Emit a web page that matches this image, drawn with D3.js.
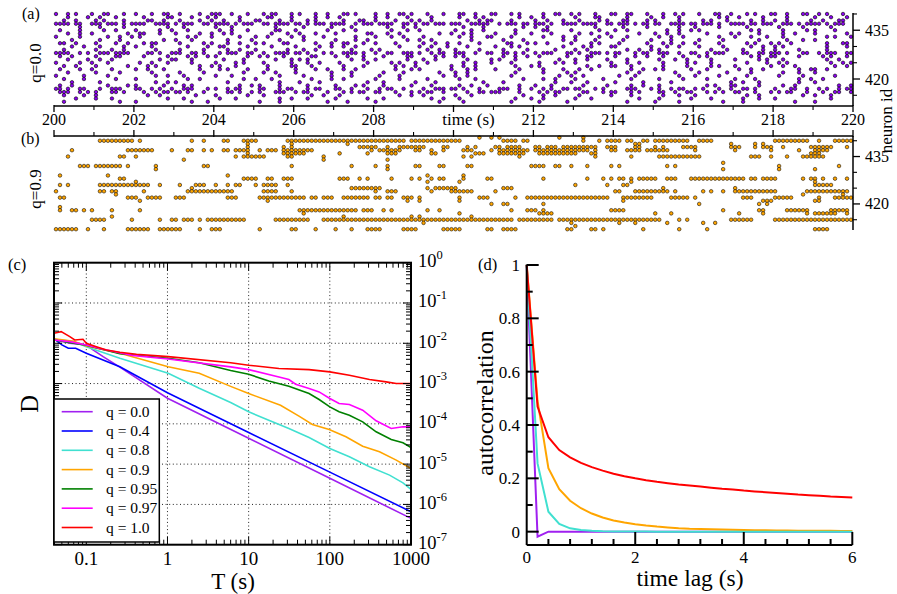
<!DOCTYPE html>
<html><head><meta charset="utf-8">
<script src="https://cdn.jsdelivr.net/npm/d3@7"></script>
<style>
body{margin:0;background:#fff}
text{font-family:"Liberation Serif","Times New Roman",serif;fill:#000}
</style>
</head><body>
<svg id="c" width="897" height="594" font-family="Liberation Serif, Times New Roman, serif"></svg>
<script>
// ---------------- DATA ----------------
const rasterStart = 200, rasterBin = 0.1;
const timeMajorTicks = [200,202,204,206,208,210,212,214,216,218,220];
const timeMinorTicks = [201,203,205,207,209,211,213,215,217,219];
const timeTickLabels = ["200","202","204","206","208","","212","214","216","218","220"];
const timeAxisLabel = "time (s)";
const neuronMajorTicks = [420,435];
const neuronMinorTicks = [415,425,430,440];

// panel (a) q=0.0 : one string per neuron, 0.1 s bins from 200 s ('o' = spike)
const rasterA_ids = [440,439,438,437,436,435,434,433,432,431,430,429,428,427,426,425,424,423,422,421,420,419,418,417,416,415,414,413];
const rasterA_rows = [
"o..o.o...o ..oo...o.. o...o..oo. .o....o..o oo..o...o. ..o.oo...o .o...o..o. ..oo.o.... o..o..oo.o ...o...o.. .oo..o...o o...o.o... ..o..oo..o .o...o...o o..oo...o. ..o..o.o.. .o...oo..o ...o.o...o o..o...oo. .o.o...o..",
"...o....o. .o...o.... ..o.....oo ....o...o. o.....o... ...oo....o .....o..o. .o........ o..o....o. ....o..... .o...o.o.. ......o..o ..o....... o....oo... ...o.....o ..o...o... ......o.o. .o.....o.. ...o...... o...o...o.",
"..o..o.... o.o....o.. ...oo..o.. .o....o..o ..o...o... oo....o..o ...o.o.... ..o...oo.. o....o...o .o..o..... ...o..o.oo ....o..... o..o...o.. .o....o.o. ..oo....o. o.....o... ..o.o...o. ....o..o.. o..o.....o ..o...oo..",
"oooo.oo..o oo.ooo.o.o ooo..oooo. o.ooo..oo. oooo.o.ooo ..oo.oooo. oo.o.ooo.o ooo..o.ooo .oooo..oo. o.oo.ooo.o oo..ooooo. .o.ooo.oo. ooo.o..ooo o.oooo..oo .ooo.o.oo. oo..oooo.o o.ooo.o..o ooo.oo.ooo ..ooo.o.oo oo.o.ooo..",
"......o... .o.....o.. ........o. ..o....... o...o..... .....o.... ..o......o ....o..... ...o...o.. o......... ..o....o.. .......o.. o..o...... .....o.... ..o.....o. ......o... o.....o... ...o...... .o.....o.. ....o.....",
".o....o... ..o..o.... o.....o..o ...o...... .o..o...o. .....oo... o.......o. ..o..o.... ....o...o. .o........ o...o..o.. .....o.... ..oo.....o ......o... o..o...... ...o..o..o .o........ ....o.o... ..o.....o. o....o....",
"...o..o..o ........o. .oo...o... o.....o..o ..o.o..... ....o...o. .o...o.... o.......oo ...o..o... ......o..o ..o.o..... o....o...o ....o..... .o..o...o. ......o... o..o..o... ...o.....o .o....o... ..o..o.... o.......o.",
"o.....o... ...o..o..o .o........ ...o.o...o ......o... o..o.....o ..o....o.. .....o.... o...o..o.. ..o....... .o..o...oo ....o..... ..o....o.. o.....o..o ...o...... .o..o..o.. ......o... o...o...o. ..o....... ...o.o...o",
"....o..... .o....o... .......o.. o...o..... ...o.....o ......o... ..o....... o....o..o. ........o. .o..o..... ....o..... ..o....o.. .......o.. o....o.... ..o......o ....o..... .o.....o.. ......o... ...o...o.. o.........",
".oo..o.... o....o..o. ..o.oo.... .o.....o.o ...o..o... o.o....oo. .....o...o ..oo...o.. o....o.... ..o..o..o. .o....o... ...oo...o. o..o.....o ....o.o... .o......o. ..o.o..o.. o.....o... ...o.o...o .o..o..... ...o...oo.",
"....o..o.. .o.....o.. o...o..... ...o....o. .oo.....o. ....o..... o.....o..o ..o..o.... ......o... .o..o...o. ...o...... o...o.o... .......o.. ..o.o....o o........o ...o..o... .o.....o.. ....o..o.. o.o....... ...o....o.",
"..o....... o...o..o.. .....o.... .o.....o.. ...o..o... o.......o. ..o..o.... ....o....o .o........ ...o..o... o.....o... ..o.....o. .....o.... o..o...... ...o..o..o .o........ ....o...o. ..o....o.. o.....o... ...o......",
"oooo..o.o. .ooo.oooo. ...oo.o..o oo..oo.o.. .o.ooo..oo ..o..oooo. oo.o...o.o ..oooo.o.. o..oo..ooo .o..o.oo.. ooo..o..oo ..oo.o.o.. o.ooo...oo .o..ooo.o. oo...o.oo. .ooo..o..o o..o.ooo.. ..oo..oo.o oo.o...oo. .o.ooo..oo",
".o..o..... o....oo... ..o.....o. ...o.o..o. o.......o. .o.o...o.. ....oo.... o..o...o.. ..o.....oo .....o.o.. o.o....... ..o..o..o. .o......o. ...oo..... o....o..o. ..o....o.. .o.o...... ....o.o..o o.....o... ..o.o...o.",
"...o....o. .o..o..... ......o..o o...o..... ..o....o.. .....o...o .o.o...... ....o..o.. o.......o. ..o..o.... ...o.....o .o...o.... ......o... o..o....o. ...o...... .o...o..o. ....o..... o.....o.o. ..o....... ...o..o...",
"o.....o..o ...o...... .o..o...o. ....o..... o....o.o.. ..o......o ...o..o... .o......o. ....o.o... o..o...... ..o..o...o ....o..... .o...o.o.. o........o ...o..o... ..o.....o. o...o..... ...o....o. .o.o...... ....o..o.o",
"..o..o.... o.......o. ...o.o.... ......o..o .o...o.... ...o.....o o...o..... ..o....o.. .....o.o.. o........o ..o..o.... .....o...o .o........ ...o..o..o o...o..... ..o.....o. ....o.o... o........o ..o..o.... .....o..o.",
".o....o..o ....o..... o..o...o.. ......o... .o.o....o. ...o...... o....o..o. ..o..o.... .....o...o .o.......o ...o.o.... o.....o... ..o....o.. .o..o..... ....o..o.. o.o......o ...o...... .o..o..o.. ......o..o o..o......",
"...o...... o.....o... ....o..... .o.....o.. .......o.. ..o..o.... o........o ....o..... ..o....o.. ......o... o..o...... .....o.... ..o.....o. o......... ...o..o... .....o.... .o......o. ....o..... ..o...o... o.........",
"o......o.. ...o...... .....o..o. ..o....... o...o..... ......o... ..o......o ....o..... .o....o... .......o.. o..o...... ....o..... ......o..o ..o....... .o...o.... ......o... o.....o... ...o...... .o.....o.. .....o....",
"..o....o.. .....o.... o......... ...o..o... .......o.. o...o..... ....o....o ..o....... o.....o... ...o...... .o...o.... .......o.. ..o..o.... o......o.. ....o..... .o.....o.. ...o...... o....o.... ......o..o ..o.......",
"....o..... .o........ .....o..o. o......... ...o...... ......o... .o....o... ........o. ..o....... o....o.... .......o.. ..o....... .....o...o ...o...... o......o.. ....o..... .........o ..o...o... ......o... o.........",
".o..o..... ...o....o. o......o.. ..o.o..... ......o..o .o....o... ...o...... o....o.o.. ..o......o ....o..... .o..o...o. ......o... o...o..... ..o.....o. ....o..o.. .o........ ...o.o...o o.....o... ..o..o.... ......o..o",
"oo.o..oo.. .o..ooo... oo..o.o..o ..ooo...o. o..o.oo... .oo...o.oo ...o.oo... oo..o...o. .o.oo..o.. ..o..ooo.o o.o...o... .ooo..o..o ..o.o..oo. oo...o.o.. ...ooo...o .o..o.oo.. o.o...o..o ..oo.o.... o...oo..o. .o.o..o.oo",
".ooo..o.o. o...oo.o.. ..o..o.oo. oo.o...o.. ...oo.o..o .o...ooo.. o.oo....o. ..o.o.oo.. oo...o...o .o.oo..o.. ...o..oo.o oo....o... .o.o.oo... ..oo...o.o o...o.o... .oo..o..oo ...o.o.o.. oo...o...o .o.oo...o. ..o..oo..o",
"..o....o.. o......... ...o..o... .....o.... o.......o. ..o....... ....o..o.. .o........ ......o..o ..o....... o...o..... .......o.. ..o..o.... .o.......o ....o..... ..o...o... o......... ...o..o... .......o.. o...o.....",
".....o.... o...o..... ........o. ..o....... .o...o.... ......o..o ...o...... o.......o. ..o....... ....o..o.. .o........ .....o...o ..o....... o...o..... ......o... .o.......o ....o..... ..o...o... o......... ....o.....",
"..o....... ......o... o......... ....o...o. .......... .o....o... ........o. ...o...... o......... ......o... ..o....... ....o..... .o......o. .......... ...o...... o.....o... .......o.. ..o....... .....o.... o........."
];

// panel (b) q=0.9 : runs of 0.1 s bins (bin index from 200 s) per neuron
const rasterB_ids = [441,440,439,438,437,436,435,434,433,432,431,430,429,428,427,426,425,424,423,422,421,420,419,418,417,416,415,414,413,412];
const rasterB_runs = [
[[106],[109],[111],[126],[132]],
[[11,18],[19],[21],[34],[37],[42,43],[47,50],[58,87],[89,101],[112,115],[117,118],[132],[136],[138,141],[143,144],[147,148],[150,158],[161,164],[180,188],[191],[195,199]],
[[48],[59],[73],[145,146],[169],[175],[177]],
[[48],[57],[59],[76,80],[83],[86,92],[97,98],[103],[105],[110,111],[113,116],[120,121],[123,125],[127,135],[138,140],[145,146],[150],[152],[157,160],[169,171],[175],[177,179],[182],[189,194],[198]],
[[4],[18,24],[29],[33,34],[37],[39],[42,43],[45,48],[51],[53,55],[57,64],[79],[81,86],[90,91],[94],[97],[102,104],[109],[111,118],[120,133],[135],[139,140],[143,146],[148,153],[160],[170],[179],[186],[190,193]],
[[48],[57,62],[71],[78],[83,85],[94,95],[105,107],[111,117],[121,130],[134,135],[189,191]],
[[3],[16,17],[20],[45],[47,52],[58,59],[67],[102],[104],[116],[135],[144],[151,161],[174,176],[179],[183],[187,192]],
[[32],[67],[83]],
[[167]],
[[6,8],[10,16],[18],[25],[37,38],[59],[74],[80],[83],[90,91],[96,97],[103,104],[119,122],[125,126],[129],[133],[139],[141],[153],[155],[181],[196]],
[[25],[83],[167],[181],[190]],
[],
[[1],[13],[43],[93],[102]],
[[16,17],[47,50],[53,54],[57,59],[71,73],[76],[78],[84],[89],[91],[94],[96,97],[102],[108,109],[122],[133],[137],[139],[141,142],[144],[146,150],[153,155],[159,172],[174,175],[177,180],[187],[189,190],[192],[195],[198]],
[[20],[93],[101],[144],[190]],
[[1],[3],[11,23],[26],[31],[35,37],[40],[43],[45,46],[50],[52,55],[58],[130],[138],[142,143],[190,194]],
[[34],[74,81],[93],[95,100],[112,114],[152],[170]],
[[0],[11,12],[14,15],[22],[33,44],[52,55],[59],[80],[83,85],[94],[99,104],[110],[140,141],[145,153],[155],[162],[164],[167],[170,180],[188,198]],
[[15],[187],[197]],
[[1,2],[18,20],[23,26],[30,32],[43,45],[51,62],[64,65],[67,69],[72,78],[80,81],[83,84],[87,89],[91],[101],[106,108],[115],[118,138],[142],[143,149],[154,158],[160],[172,174],[180,184],[191],[195,199]],
[[21],[53],[88],[91],[101],[142],[177,179],[190,191]],
[[109],[112,113],[122],[161],[176],[178]],
[[1]],
[[1],[4,5],[7],[9],[14],[21],[61,75],[77,79],[82],[84],[93],[96],[114],[118,120],[122],[139,142],[167],[176,177],[183,188],[194,198]],
[[62],[101],[121,124],[150],[154],[171],[177],[188],[190,195],[198]],
[[14],[72],[89],[91],[104]],
[[9,12],[19],[26],[29,30],[32,34],[36],[38,47],[55,63],[67,76],[77,114],[116,124],[126,151],[156],[158],[169,174],[180,199]],
[[92],[129],[141],[145],[153],[162],[165]],
[[130]],
[[0,5],[8],[12],[18,23],[26,31],[36],[39,41],[51],[59,60],[65],[70],[74],[78,81],[87,90],[97,101],[108,109],[112,115],[128,129],[134,135],[137],[147],[156],[163],[190,193]]
];

// panel (c): D versus T for each q
const seriesC_names = ["q = 0.0","q = 0.4","q = 0.8","q = 0.9","q = 0.95","q = 0.97","q = 1.0"];
const seriesC_colors = ["#a020f0","#0000ff","#40e0d0","#ffa500","#008000","#ff00ff","#ff0000"];
const D_q00 = [[0.04,1.26e-2],[0.0626,1.0e-2],[0.1,9.08e-3],[0.121,6.82e-3],[0.161,4.66e-3],[0.259,2.55e-3],[1,4.31e-4],[10,4.37e-5],[100,4.44e-6],[1000,4.5e-7]];
const D_q04 = [[0.04,1.3e-2],[0.05,9.1e-3],[0.06,7.5e-3],[0.074,7.5e-3],[0.1,5.65e-3],[0.259,2.6e-3],[1,5.89e-4],[10,6.11e-5],[100,6.34e-6],[1000,6.58e-7]];
const D_q08 = [[0.04,1.26e-2],[0.07,1.1e-2],[0.1,8.24e-3],[0.259,4.25e-3],[1.02,1.8e-3],[2.46,7.64e-4],[6,3.39e-4],[10,1.99e-4],[17.7,1.23e-4],[31.3,7.66e-5],[55.5,4.58e-5],[100,2.44e-5],[174,1.52e-5],[308,8.59e-6],[544,5.34e-6],[796,3.44e-6],[1000,2.35e-6]];
const D_q09 = [[0.04,1.3e-2],[0.07,1.12e-2],[0.1,8.57e-3],[0.259,5.65e-3],[1.02,2.62e-3],[2.46,1.8e-3],[6,8.51e-4],[10,5.65e-4],[24.7,2.9e-4],[41.7,1.55e-4],[61,9.62e-5],[98.2,7.24e-5],[158,4.77e-5],[254,2.79e-5],[409,2.02e-5],[658,1.26e-5],[1000,7.81e-6]];
const D_q095 = [[0.04,1.21e-2],[0.1,8.91e-3],[0.259,5.5e-3],[1.02,4.25e-3],[2.46,3.3e-3],[6,2.12e-3],[10,1.7e-3],[17.7,1.16e-3],[31.3,8.59e-4],[55.5,5.65e-4],[73.8,4.01e-4],[100,2.64e-4],[130,1.99e-4],[174,1.64e-4],[254,1.12e-4],[372,6.34e-5],[571,4.09e-5],[796,3.38e-5],[1000,2.59e-5]];
const D_q097 = [[0.04,1.21e-2],[0.0626,1.1e-2],[0.1,9.08e-3],[0.161,7.1e-3],[0.37,5.0e-3],[1.02,4.07e-3],[6,2.6e-3],[10,2.22e-3],[23.6,1.46e-3],[31.3,1.26e-3],[37.9,9.62e-4],[55.5,7.52e-4],[73.8,6.21e-4],[100,4.25e-4],[130,3.19e-4],[174,3.01e-4],[254,2.18e-4],[372,1.19e-4],[571,7.66e-5],[796,8.43e-5],[1000,8.43e-5]];
const D_q10 = [[0.04,1.77e-2],[0.049,1.94e-2],[0.0626,1.46e-2],[0.072,1.21e-2],[0.091,1.26e-2],[0.1,1.0e-2],[0.133,8.24e-3],[0.177,6.82e-3],[0.259,5.97e-3],[0.415,5.33e-3],[1.02,4.66e-3],[6,3.28e-3],[10,2.85e-3],[23.6,2.36e-3],[55.5,2.22e-3],[100,1.95e-3],[174,1.61e-3],[308,1.26e-3],[494,1.1e-3],[658,1.0e-3],[1000,1.0e-3]];
const seriesC_data = [D_q00,D_q04,D_q08,D_q09,D_q095,D_q097,D_q10];
const T_tickValues = [0.1,1,10,100,1000];
const T_tickLabels = ["0.1","1","10","100","1000"];
const D_tickExponents = [0,-1,-2,-3,-4,-5,-6,-7];

// panel (d): autocorrelation versus time lag
const lags = [0,0.2,0.4,0.6,0.8,1.0,1.2,1.4,1.6,1.8,2.0,2.2,2.4,2.6,2.8,3.0,3.2,3.4,3.6,3.8,4.0,4.2,4.4,4.6,4.8,5.0,5.2,5.4,5.6,5.8,6.0];
const ac_q00 = [1,-0.019,0,0,0,0,0,0,0,0,0,0,0,0,0,0,0,0,0,0,0,0,0,0,0,0,0,0,0,0,0];
const ac_q08 = [1,0.256,0.075,0.029,0.0125,0.006,0.003,0.0015,0.001,0.0005,0.0003,0.0002,0.0001,0,0,0,0,0,0,0,0,0,0,0,0,0,0,0,0,0,0];
const ac_q09 = [1,0.49,0.238,0.159,0.116,0.088,0.068,0.053,0.042,0.034,0.028,0.023,0.019,0.016,0.013,0.011,0.010,0.009,0.008,0.007,0.006,0.0055,0.005,0.0045,0.004,0.0038,0.0035,0.0032,0.003,0.0028,0.0026];
const ac_q10 = [1,0.469,0.354,0.306,0.279,0.258,0.242,0.229,0.217,0.208,0.200,0.193,0.187,0.182,0.177,0.173,0.169,0.165,0.161,0.158,0.154,0.151,0.148,0.145,0.142,0.139,0.137,0.135,0.132,0.130,0.128];
const seriesD_data = [ac_q00, ac_q09, ac_q08, ac_q10];
const seriesD_colors = ["#a020f0","#ffa500","#40e0d0","#ff0000"];
const acTickValues = [0,0.2,0.4,0.6,0.8,1];
const acTickLabels = ["0","0.2","0.4","0.6","0.8","1"];
const lagTickValues = [0,2,4,6];
const lagTickLabels = ["0","2","4","6"];

// ---------------- DRAW ----------------
const FONT = "Liberation Serif, Times New Roman, serif";
const svg = d3.select("#c");
svg.append("rect").attr("width",897).attr("height",594).attr("fill","#fff");

function line(g,x1,y1,x2,y2,w){ g.append("line").attr("x1",x1).attr("y1",y1).attr("x2",x2).attr("y2",y2).attr("stroke","#000").attr("stroke-width",w); }
function txt(g,x,y,s,size,anchor){ return g.append("text").attr("x",x).attr("y",y).attr("font-family",FONT).attr("font-size",size).attr("text-anchor",anchor||"start").text(s); }

// ---- rasters
const xR = d3.scaleLinear().domain([200,220]).range([54,853]);
const yA = d3.scaleLinear().domain([411.7,440.3]).range([106,13]);
const yB = d3.scaleLinear().domain([411.75,441.5]).range([230,136]);

function decodeRow(str){ const s=str.replace(/\s+/g,""); const t=[]; for(let i=0;i<s.length&&i<200;i++) if(s[i]==="o") t.push(rasterStart+(i+0.5)*rasterBin); return t; }
function decodeRuns(runs){ const t=[]; runs.forEach(r=>{ const a=r[0], b=r.length>1?r[1]:r[0]; for(let k=a;k<=b;k++) t.push(rasterStart+(k+0.5)*rasterBin); }); return t; }

const gA = svg.append("g");
rasterA_ids.forEach((id,i)=>{
  gA.selectAll(null).data(decodeRow(rasterA_rows[i])).enter().append("circle")
    .attr("cx",d=>xR(d)).attr("cy",yA(id)).attr("r",1.75)
    .attr("fill","#8a00ee").attr("stroke","#000").attr("stroke-width",0.6);
});
const gB = svg.append("g");
rasterB_ids.forEach((id,i)=>{
  gB.selectAll(null).data(decodeRuns(rasterB_runs[i])).enter().append("circle")
    .attr("cx",d=>xR(d)).attr("cy",yB(id)).attr("r",1.8)
    .attr("fill","#ffa500").attr("stroke","#000").attr("stroke-width",0.55);
});

// axes (a)
const axA = svg.append("g");
line(axA, xR(200), 106, xR(220), 106, 1.5);
timeMajorTicks.forEach((t,i)=>{ line(axA,xR(t),105,xR(t),112,1.3); if(timeTickLabels[i]) txt(axA,xR(t),125,timeTickLabels[i],16,"middle"); });
timeMinorTicks.forEach(t=>line(axA,xR(t),106,xR(t),110,1.1));
txt(axA, xR(210)+15, 125, timeAxisLabel, 17, "middle");
line(axA, 853, yA(440.3), 853, 106, 1.5);
neuronMajorTicks.forEach(v=>{ line(axA,853,yA(v),860,yA(v),1.3); txt(axA,865,yA(v)+5.5,String(v),16); });
neuronMinorTicks.forEach(v=>line(axA,853,yA(v),857,yA(v),1.1));
txt(axA, 22, 19, "(a)", 16);
txt(axA, 0, 0, "q=0.0", 17, "middle").attr("transform","translate(41,63) rotate(-90)");
txt(axA, 0, 0, "neuron id", 17, "middle").attr("transform","translate(892,121) rotate(-90)");

// axes (b)
const axB = svg.append("g");
line(axB, xR(200), 136, xR(220), 136, 1.5);
timeMajorTicks.forEach(t=>line(axB,xR(t),137,xR(t),130,1.3));
timeMinorTicks.forEach(t=>line(axB,xR(t),136,xR(t),132,1.1));
line(axB, 853, 136, 853, 230, 1.5);
neuronMajorTicks.forEach(v=>{ line(axB,853,yB(v),860,yB(v),1.3); txt(axB,865,yB(v)+5.5,String(v),16); });
neuronMinorTicks.forEach(v=>line(axB,853,yB(v),857,yB(v),1.1));
txt(axB, 21, 144, "(b)", 16);
txt(axB, 0, 0, "q=0.9", 17, "middle").attr("transform","translate(41,189) rotate(-90)");

// ---- panel (c)
const xC = d3.scaleLog().domain([0.04,1000]).range([54,411]);
const yC = d3.scaleLog().domain([1e-7,1]).range([544.7,262.7]);
const gC = svg.append("g");
const L=54,R=411,T=262.7,B=544.7;
T_tickValues.filter(v=>v<1000).forEach(v=>gC.append("line").attr("x1",xC(v)).attr("x2",xC(v)).attr("y1",T).attr("y2",B).attr("stroke","#222").attr("stroke-width",1).attr("stroke-dasharray","1,2.6"));
D_tickExponents.filter(e=>e<0&&e>-7).forEach(e=>gC.append("line").attr("x1",L).attr("x2",R).attr("y1",yC(Math.pow(10,e))).attr("y2",yC(Math.pow(10,e))).attr("stroke","#222").attr("stroke-width",1).attr("stroke-dasharray","1,2.6"));
const lineC = d3.line().x(d=>xC(d[0])).y(d=>yC(d[1]));
seriesC_data.forEach((s,i)=>gC.append("path").attr("d",lineC(s)).attr("fill","none").attr("stroke",seriesC_colors[i]).attr("stroke-width",1.6));
const xMinor=[], yMinor=[];
for(let e=-2;e<=3;e++) for(let k=1;k<=9;k++){ const v=k*Math.pow(10,e); if(v>=0.0399&&v<=1000.1) xMinor.push([v,k===1]); }
for(let e=-7;e<=0;e++) for(let k=1;k<=9;k++){ const v=k*Math.pow(10,e); if(v<=1.0001) yMinor.push([v,k===1]); }
xMinor.forEach(([v,maj])=>{ const x=xC(v), l=maj?8:5; line(gC,x,B,x,B-l,1); line(gC,x,T,x,T+l,1); });
yMinor.forEach(([v,maj])=>{ const y=yC(v), l=maj?8:5; line(gC,L,y,L+l,y,1); line(gC,R,y,R-l,y,1); });
gC.append("rect").attr("x",L).attr("y",T).attr("width",R-L).attr("height",B-T).attr("fill","none").attr("stroke","#000").attr("stroke-width",2);
T_tickValues.forEach((v,i)=>txt(gC,xC(v),565,T_tickLabels[i],19,"middle"));
D_tickExponents.forEach(e=>{
  const t=txt(gC,418,yC(Math.pow(10,e))+4.5,"10",18.5);
  t.append("tspan").attr("dy",-8).attr("font-size",12.5).text(String(e));
});
txt(gC,233,589,"T (s)",23,"middle");
txt(gC,0,0,"D",24.5,"middle").attr("transform","translate(38,404) rotate(-90)");
txt(gC,8,270,"(c)",16.5);
// legend
const lg = svg.append("g");
lg.append("rect").attr("x",L).attr("y",399).attr("width",105.3).attr("height",143).attr("fill","#fff").attr("stroke","#000").attr("stroke-width",1.5);
seriesC_names.forEach((n,i)=>{
  const y=411.7+19.3*i;
  lg.append("line").attr("x1",61.7).attr("x2",92.7).attr("y1",y).attr("y2",y).attr("stroke",seriesC_colors[i]).attr("stroke-width",1.6);
  txt(lg,106,y+5,n,15.5);
});

// ---- panel (d)
const xD = d3.scaleLinear().domain([0,6]).range([526.7,852.3]);
const yD = d3.scaleLinear().domain([-0.05,1]).range([545,265]);
const gD = svg.append("g");
const lineD = d3.line().x((d,i)=>xD(lags[i])).y(d=>yD(d));
seriesD_data.forEach((s,i)=>gD.append("path").attr("d",lineD(s)).attr("fill","none").attr("stroke",seriesD_colors[i]).attr("stroke-width",2));
line(gD, xD(0), yD(1)-0.5, xD(0), yD(-0.05), 2);
line(gD, xD(0), yD(-0.05), xD(6), yD(-0.05), 2);
d3.range(0,11).forEach(i=>{ const v=i/10; const maj=i%2===0; line(gD,xD(0),yD(v),xD(0)+(maj?12:6),yD(v),2); });
d3.range(0,16).forEach(i=>{ const v=i*0.4; const maj=i%5===0; if(i>0) line(gD,xD(v),yD(-0.05),xD(v),yD(-0.05)-(maj?13:6),2); });
acTickValues.forEach((v,i)=>txt(gD,520,yD(v)+6,acTickLabels[i],17,"end"));
lagTickValues.forEach((v,i)=>txt(gD,xD(v),563,lagTickLabels[i],17,"middle"));
txt(gD,690,586,"time lag (s)",23.5,"middle");
txt(gD,0,0,"autocorrelation",24,"middle").attr("transform","translate(493,403) rotate(-90)");
txt(gD,478,270,"(d)",16.5);
</script>
</body></html>
